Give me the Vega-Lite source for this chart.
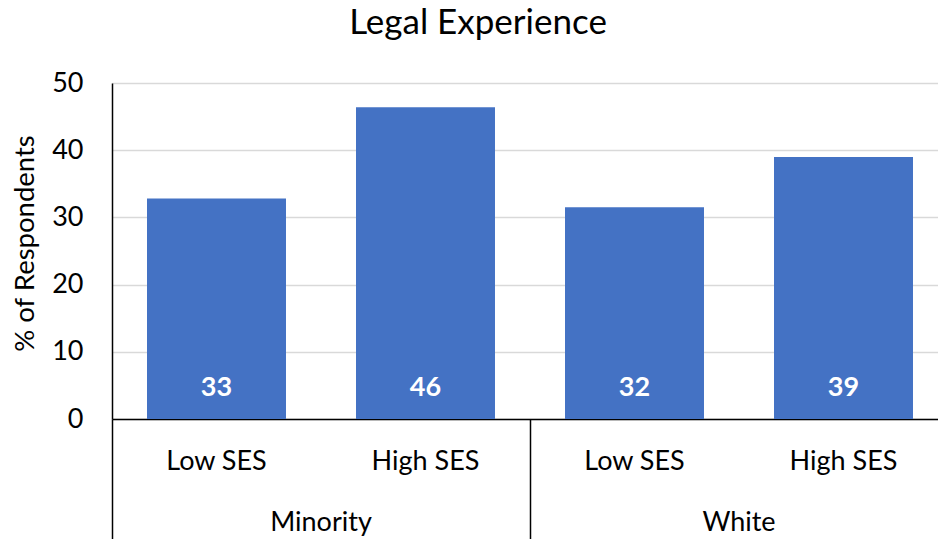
{
  "$schema": "https://vega.github.io/schema/vega-lite/v6.json",
  "autosize": "none",
  "width": 836,
  "height": 336,
  "padding": {"left": 112, "top": 83, "right": 0, "bottom": 120},
  "background": "white",
  "title": {"text": "Legal Experience", "font": "Lato", "fontSize": 35, "fontWeight": "normal", "color": "black", "anchor": "middle", "dx": -52, "offset": 28},
  "config": {"view": {"stroke": null}},
  "data": {"values": [
    {"group": "Minority", "ses": "Low SES", "cat": "Minority|Low SES", "value": 32.8},
    {"group": "Minority", "ses": "High SES", "cat": "Minority|High SES", "value": 46.4},
    {"group": "White", "ses": "Low SES", "cat": "White|Low SES", "value": 31.5},
    {"group": "White", "ses": "High SES", "cat": "White|High SES", "value": 39.0}
  ]},
  "layer": [
    {
      "encoding": {
        "x": {"field": "cat", "type": "nominal", "sort": null,
          "scale": {"paddingInner": 0.335, "paddingOuter": 0.1675},
          "axis": {"orient": "bottom", "title": null, "labelAngle": 0, "ticks": false, "domain": true, "domainColor": "black", "domainWidth": 1.5, "grid": false,
            "labelExpr": "split(datum.label, '|')[1]", "labelFont": "Lato", "labelFontSize": 27, "labelColor": "black", "labelPadding": 29}},
        "y": {"field": "value", "type": "quantitative",
          "scale": {"domain": [0, 50]},
          "axis": {"values": [0, 10, 20, 30, 40, 50], "ticks": false, "domain": true, "domainColor": "black", "domainWidth": 1.5, "grid": true, "gridColor": "#d9d9d9", "gridWidth": 1.5,
            "labelFont": "Lato", "labelFontSize": 27, "labelColor": "black", "labelPadding": 29,
            "title": "% of Respondents", "titleFont": "Lato", "titleFontSize": 27.5, "titleFontWeight": "normal", "titleColor": "black", "titlePadding": 12, "titleY": 160}}
      },
      "layer": [
        {"mark": {"type": "bar", "color": "#4472C4"}},
        {"mark": {"type": "text", "color": "white", "font": "Lato", "fontSize": 27, "fontWeight": "bold", "baseline": "middle", "dy": -31},
          "encoding": {"y": {"datum": 0}, "text": {"field": "value", "type": "quantitative", "format": ".0f"}}}
      ]
    },
    {
      "mark": {"type": "rule", "opacity": 0},
      "encoding": {
        "x": {"field": "group", "type": "nominal", "sort": null,
          "scale": {"paddingInner": 0, "paddingOuter": 0},
          "axis": {"orient": "bottom", "title": null, "labelAngle": 0, "domain": false, "grid": false, "ticks": true, "tickSize": 120, "tickColor": "black", "tickWidth": 1.5, "bandPosition": 0,
            "labelFont": "Lato", "labelFontSize": 27, "labelColor": "black", "labelPadding": -30}}
      }
    }
  ],
  "resolve": {"scale": {"x": "independent"}, "axis": {"x": "independent"}}
}
